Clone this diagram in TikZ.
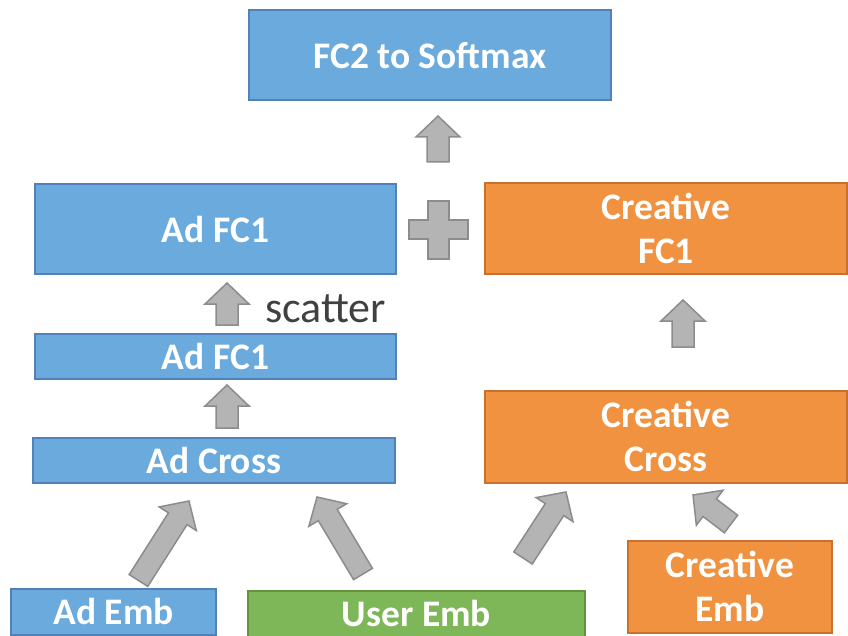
\documentclass[tikz,border=0pt]{standalone}
\usepackage{fontspec}
\setmainfont{Carlito}
\usetikzlibrary{calc}

\definecolor{bluefill}{RGB}{107,170,220}
\definecolor{blueedge}{RGB}{80,130,185}
\definecolor{orangefill}{RGB}{240,146,64}
\definecolor{orangeedge}{RGB}{200,112,45}
\definecolor{greenfill}{RGB}{126,183,88}
\definecolor{greenedge}{RGB}{96,148,62}
\definecolor{arrowfill}{RGB}{180,180,180}
\definecolor{arrowedge}{RGB}{140,140,140}
\definecolor{notegray}{RGB}{64,64,64}

\tikzset{
  layer/.style={draw, line width=2pt, inner sep=0pt, text=white,
    font=\fontsize{37.5}{44}\selectfont\bfseries, align=center},
  bluebox/.style={layer, fill=bluefill, draw=blueedge},
  orangebox/.style={layer, fill=orangefill, draw=orangeedge},
  greenbox/.style={layer, fill=greenfill, draw=greenedge},
  liftarrow/.style={draw=arrowedge, fill=arrowfill, line width=1.5pt, line join=miter},
}

% block arrow from a tail coordinate (#1) to a tip coordinate (#2):
% shaft 22pt wide, head 44pt wide and 21pt long
\newcommand\blockarrow[2]{%
  \coordinate (#1base) at ($(#2)!21pt!(#1)$);
  \draw[liftarrow]
    ($(#1)!11pt!90:(#2)$) -- ($(#1base)!11pt!90:(#2)$) -- ($(#1base)!22pt!90:(#2)$)
    -- (#2)
    -- ($(#1base)!22pt!-90:(#2)$) -- ($(#1base)!11pt!-90:(#2)$) -- ($(#1)!11pt!-90:(#2)$)
    -- cycle;
}

\begin{document}
\begin{tikzpicture}[x=1pt,y=-1pt]
  \clip (0,0) rectangle (848,636);
  \fill[white] (0,0) rectangle (848,636);

  % layers
  \node[bluebox, minimum width=362, minimum height=90] (fc2) at (430,55.5) {FC2 to Softmax};
  \node[bluebox, minimum width=361, minimum height=90] (adfc1) at (215.5,229) {Ad FC1};
  \node[orangebox, minimum width=362, minimum height=90] (crfc1) at (666,228.5) {Creative\\FC1};
  \node[bluebox, minimum width=361, minimum height=45] (adfc1s) at (215.5,356) {Ad FC1};
  \node[bluebox, minimum width=362, minimum height=45] (adcross) at (214,460) {Ad Cross};
  \node[orangebox, minimum width=362, minimum height=92] (crcross) at (666,436.5) {Creative\\Cross};
  \node[bluebox, minimum width=205, minimum height=46] (ademb) at (113.5,611.5) {Ad Emb};
  \node[greenbox, minimum width=337, minimum height=46] (useremb) at (416.5,613.5) {User Emb};
  \node[orangebox, minimum width=204, minimum height=92] (cremb) at (730,586.5) {Creative\\Emb};

  % label beside the scatter step
  \node[anchor=base west, inner sep=0pt, text=notegray,
        font=\fontsize{44}{52}\selectfont] (scat) at (265,322) {scatter};

  % plus sign joining the two FC1 branches
  \draw[fill=arrowfill, draw=arrowedge, line width=1.5pt]
    (428,201) -- (449,201) -- (449,220) -- (468,220) -- (468,239) -- (449,239)
    -- (449,259) -- (428,259) -- (428,239) -- (409,239) -- (409,220) -- (428,220) -- cycle;

  % arrow end points
  \coordinate (t0) at (438,162); \coordinate (h0) at (438,116);
  \coordinate (t1) at (227,325); \coordinate (h1) at (227,283);
  \coordinate (t2) at (227,428); \coordinate (h2) at (227,385);
  \coordinate (t3) at (683,347); \coordinate (h3) at (683,300);
  \coordinate (t4) at (138.5,580.5); \coordinate (h4) at (189,501);
  \coordinate (t5) at (363,574); \coordinate (h5) at (317,497);
  \coordinate (t6) at (523,558); \coordinate (h6) at (566,492);
  \coordinate (t7) at (731,524); \coordinate (h7) at (693,495);

  \blockarrow{t0}{h0}
  \blockarrow{t1}{h1}
  \blockarrow{t2}{h2}
  \blockarrow{t3}{h3}
  \blockarrow{t4}{h4}
  \blockarrow{t5}{h5}
  \blockarrow{t6}{h6}
  \blockarrow{t7}{h7}
\end{tikzpicture}
\end{document}
